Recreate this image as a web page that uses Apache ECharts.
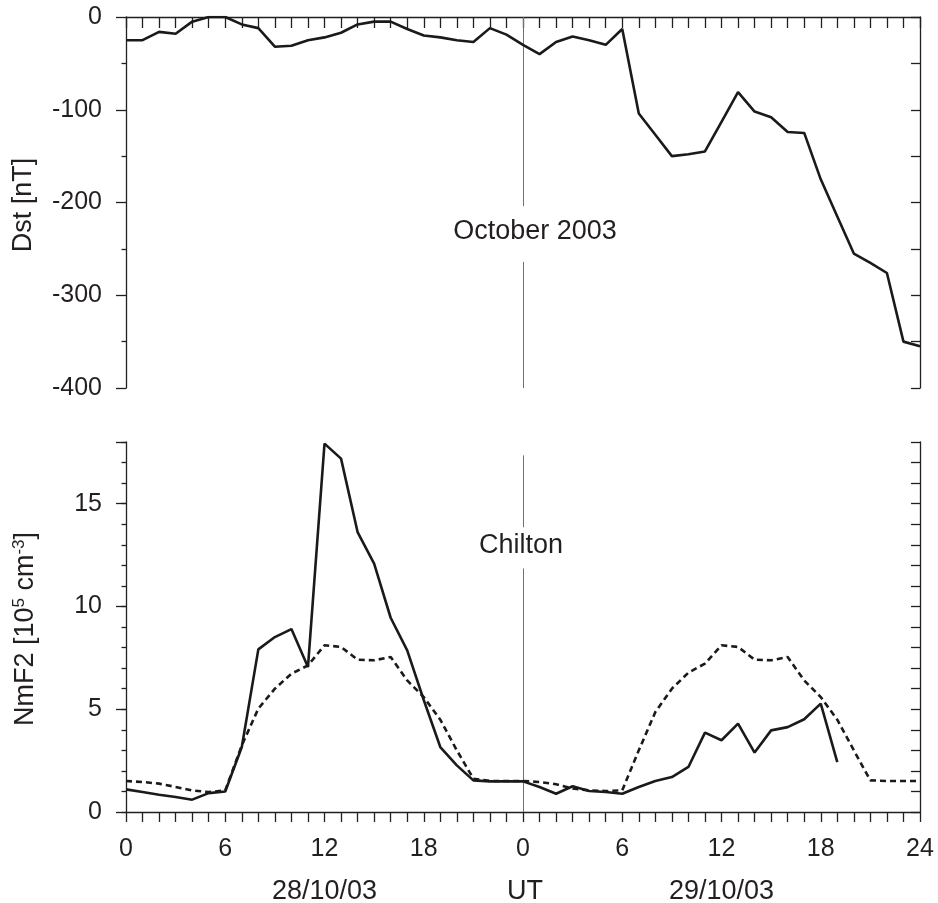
<!DOCTYPE html>
<html><head><meta charset="utf-8">
<script src="https://cdn.jsdelivr.net/npm/echarts@6/dist/echarts.min.js"></script>
<style>html,body{margin:0;padding:0;background:#fff}#c{width:938px;height:903px}</style>
</head><body><div id="c"></div>
<script>
// ---- data ----
const hours = [0,1,2,3,4,5,6,7,8,9,10,11,12,13,14,15,16,17,18,19,20,21,22,23,24,25,26,27,28,29,30,31,32,33,34,35,36,37,38,39,40,41,42,43,44,45,46,47,48];
const dst = [-25,-25,-16,-18,-5,0,0,-8,-12,-32,-31,-25,-22,-17,-8,-5,-5,-13,-20,-22,-25,-27,-12,-19,-30,-40,-27,-21,-25,-30,-13,-104,-127,-150,-148,-145,-113,-81,-102,-108,-124,-125,-175,-215,-255,-265,-276,-350,-355];
const nmf2Observed = [1.10,0.97,0.84,0.73,0.60,0.92,1.0,3.16,7.91,8.51,8.90,7.05,17.92,17.19,13.62,12.08,9.45,7.86,5.45,3.16,2.27,1.54,1.49,1.49,1.49,1.22,0.89,1.25,1.02,0.97,0.89,1.22,1.51,1.70,2.19,3.86,3.49,4.30,2.89,3.97,4.13,4.51,5.27,2.43];
const nmf2Median = [1.51,1.46,1.38,1.22,1.05,0.97,1.05,3.24,5.03,6.0,6.73,7.13,8.11,8.03,7.41,7.38,7.54,6.4,5.59,4.49,3.0,1.62,1.51,1.51,1.51,1.46,1.35,1.14,1.05,1.02,1.05,3.0,4.86,6.0,6.78,7.22,8.11,8.03,7.41,7.38,7.54,6.4,5.59,4.49,3.0,1.54,1.51,1.51,1.51];
const xTickLabels = ['0','6','12','18','0','6','12','18','24'];
const dayLabels = ['28/10/03','UT','29/10/03'];
const dayLabelHours = [12,24,36];
const separatorHour = 24;

// ---- style ----
const FONT = "'Liberation Sans', Arial, Helvetica, sans-serif";
const INK = '#231f20';
const AX = {color: INK, width: 1.3};

const chart = echarts.init(document.getElementById('c'), null, {renderer: 'canvas'});

function baseX(grid, pos, inside, len, labels) {
  return {
    gridIndex: grid, type: 'value', min: 0, max: 48, interval: 6, position: pos,
    axisLine: {show: true, onZero: false, lineStyle: AX},
    axisTick: {show: true, inside: inside, length: len, lineStyle: AX},
    minorTick: {show: true, splitNumber: 6, length: len, lineStyle: AX},
    axisLabel: labels ? {show: true, fontSize: 25, color: INK, fontFamily: FONT, margin: 25,
      formatter: v => xTickLabels[Math.round(v / 6)]} : {show: false},
    splitLine: {show: false}, minorSplitLine: {show: false}
  };
}

const option = {
  animation: false,
  backgroundColor: '#fff',
  textStyle: {fontFamily: FONT},
  grid: [
    {left: 126, top: 17, width: 794, height: 371},
    {left: 126, top: 442, width: 794, height: 370},
    {left: 126, top: 442, width: 794, height: 370}
  ],
  xAxis: [
    baseX(0, 'top', true, 11, false),
    baseX(1, 'bottom', false, 10, true),
    {gridIndex: 2, type: 'value', min: 0, max: 48, show: false}
  ],
  yAxis: [
    {gridIndex: 0, type: 'value', min: -400, max: 0, interval: 100, position: 'left',
     axisLine: {show: true, onZero: false, lineStyle: AX},
     axisTick: {show: true, length: 10, lineStyle: AX},
     minorTick: {show: true, splitNumber: 2, length: 4.5, lineStyle: AX},
     axisLabel: {fontSize: 25, color: INK, fontFamily: FONT, margin: 24},
     splitLine: {show: false}, minorSplitLine: {show: false}},
    {gridIndex: 0, type: 'value', min: -400, max: 0, interval: 50, position: 'right',
     axisLine: {show: true, onZero: false, lineStyle: AX},
     axisTick: {show: true, inside: true, length: 9, lineStyle: AX},
     axisLabel: {show: false}, splitLine: {show: false}},
    {gridIndex: 1, type: 'value', min: 0, max: 18, interval: 5, position: 'left',
     axisLine: {show: true, onZero: false, lineStyle: AX},
     axisTick: {show: true, length: 10, lineStyle: AX},
     axisLabel: {fontSize: 25, color: INK, fontFamily: FONT, margin: 24,
       formatter: v => (v % 5 === 0 ? String(v) : '')},
     splitLine: {show: false}},
    {gridIndex: 1, type: 'value', min: 0, max: 18, interval: 1, position: 'right',
     axisLine: {show: true, onZero: false, lineStyle: AX},
     axisTick: {show: true, inside: true, length: 9, lineStyle: AX},
     axisLabel: {show: false}, splitLine: {show: false}},
    {gridIndex: 2, type: 'value', min: 0, max: 18, interval: 1, position: 'left',
     axisLine: {show: false},
     axisTick: {show: true, length: 4.5, lineStyle: AX},
     axisLabel: {show: false}, splitLine: {show: false}}
  ],
  series: [
    {type: 'line', xAxisIndex: 0, yAxisIndex: 0, symbol: 'none', z: 3,
     data: hours.map((h, i) => [h, dst[i]]),
     lineStyle: {color: '#1a1a1a', width: 2.6},
     emphasis: {disabled: true},
     markLine: {silent: true, symbol: 'none', label: {show: false}, z: 1,
       lineStyle: {color: '#707070', width: 1, type: 'solid'},
       data: [[{coord: [separatorHour, 0]}, {coord: [separatorHour, -204]}],
              [{coord: [separatorHour, -264]}, {coord: [separatorHour, -400]}]]}},
    {type: 'line', xAxisIndex: 1, yAxisIndex: 2, symbol: 'none', z: 3,
     data: nmf2Observed.map((v, i) => [hours[i], v]),
     lineStyle: {color: '#1a1a1a', width: 2.6},
     emphasis: {disabled: true},
     markLine: {silent: true, symbol: 'none', label: {show: false}, z: 1,
       lineStyle: {color: '#707070', width: 1, type: 'solid'},
       data: [[{coord: [separatorHour, 17.35]}, {coord: [separatorHour, 13.85]}],
              [{coord: [separatorHour, 11.85]}, {coord: [separatorHour, 0]}]]}},
    {type: 'line', xAxisIndex: 1, yAxisIndex: 2, symbol: 'none', z: 3,
     data: nmf2Median.map((v, i) => [hours[i], v]),
     lineStyle: {color: '#1a1a1a', width: 2.6, type: [6, 4]},
     emphasis: {disabled: true}}
  ],
  graphic: [
    {type: 'text', x: 535, y: 232, style: {text: 'October 2003', align: 'center', verticalAlign: 'middle', fontSize: 27, fontFamily: FONT, fill: INK}},
    {type: 'text', x: 521, y: 546, style: {text: 'Chilton', align: 'center', verticalAlign: 'middle', fontSize: 27, fontFamily: FONT, fill: INK}},
    {type: 'text', x: 24, y: 205, rotation: Math.PI / 2, style: {text: 'Dst [nT]', align: 'center', verticalAlign: 'middle', fontSize: 27, fontFamily: FONT, fill: INK}},
    {type: 'text', x: 26, y: 629, rotation: Math.PI / 2, style: {text: 'NmF2 [10{sup|5} cm{sup|-3}]', align: 'center', verticalAlign: 'middle', fontSize: 27, fontFamily: FONT, fill: INK,
      rich: {sup: {fontSize: 17, verticalAlign: 'top', fontFamily: FONT, fill: INK, lineHeight: 31}}}}
  ].concat(dayLabels.map((t, i) => ({
    type: 'text', x: 126 + dayLabelHours[i] * 794 / 48 + (i === 1 ? 2 : 0), y: 892,
    style: {text: t, align: 'center', verticalAlign: 'middle', fontSize: 27, fontFamily: FONT, fill: INK}
  })))
};
chart.setOption(option);
</script>
</body></html>
